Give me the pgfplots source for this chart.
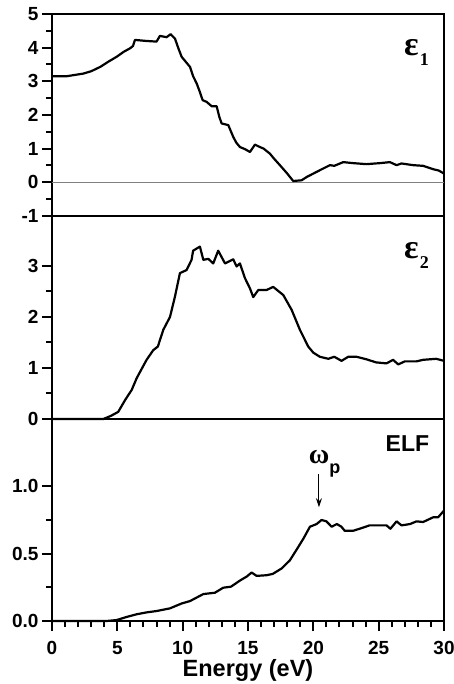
\documentclass[border=0pt]{standalone}
\usepackage{pgfplots}
\pgfplotsset{compat=1.18}
\usepackage{fontspec}
\setmainfont{Liberation Sans}
\newfontfamily\serifgr{Liberation Serif}
\usetikzlibrary{arrows.meta}

\pgfplotstableread{
x y
0.0 3.15
1.1 3.15
2.4 3.23
3.0 3.30
3.7 3.43
4.3 3.58
4.95 3.73
5.5 3.88
5.97 3.98
6.2 4.05
6.35 4.23
7.2 4.20
8.0 4.18
8.26 4.35
8.77 4.31
9.08 4.40
9.41 4.27
9.7 3.95
9.92 3.73
10.3 3.55
10.56 3.43
10.8 3.15
11.07 2.94
11.3 2.70
11.53 2.44
11.83 2.39
12.22 2.26
12.6 2.26
12.8 1.95
12.98 1.75
13.49 1.70
13.87 1.35
14.1 1.18
14.38 1.05
14.8 0.98
15.15 0.90
15.53 1.12
15.9 1.05
16.2 1.00
16.68 0.85
17.0 0.70
17.44 0.51
17.96 0.28
18.46 0.04
19.1 0.06
19.5 0.16
20.0 0.26
20.5 0.36
21.27 0.51
21.6 0.49
22.29 0.60
23.05 0.57
24.07 0.54
25.1 0.57
25.86 0.60
26.37 0.51
26.75 0.56
27.64 0.51
28.4 0.49
29.17 0.39
29.6 0.35
30.0 0.26
}\epsone

\pgfplotstableread{
x y
0.0 0.0
3.93 0.0
4.5 0.06
5.07 0.14
5.59 0.37
6.1 0.57
6.48 0.80
6.9 1.00
7.24 1.16
7.75 1.35
8.1 1.42
8.52 1.75
9.03 2.00
9.41 2.40
9.79 2.86
10.3 2.92
10.68 3.12
10.8 3.30
11.32 3.38
11.58 3.12
11.96 3.14
12.34 3.05
12.72 3.30
13.24 3.05
13.87 3.13
14.13 2.99
14.38 3.05
14.77 2.76
15.15 2.56
15.4 2.39
15.79 2.53
16.43 2.53
16.93 2.59
17.7 2.43
18.34 2.14
18.97 1.75
19.61 1.42
20.0 1.30
20.5 1.22
21.15 1.18
21.6 1.22
22.16 1.14
22.67 1.22
23.3 1.22
24.07 1.17
24.8 1.11
25.6 1.09
26.1 1.16
26.5 1.07
27.0 1.13
27.9 1.13
28.4 1.16
29.4 1.18
30.0 1.14
}\epstwo

\pgfplotstableread{
x y
0.0 0.0
4.18 0.0
4.95 0.007
5.71 0.03
6.48 0.05
7.24 0.064
8.0 0.074
9.03 0.094
9.92 0.13
10.56 0.148
11.58 0.20
12.47 0.21
13.1 0.247
13.7 0.255
14.38 0.30
14.9 0.33
15.28 0.36
15.66 0.335
16.43 0.34
16.9 0.35
17.57 0.39
18.2 0.45
18.72 0.53
19.23 0.61
19.74 0.70
20.25 0.72
20.63 0.75
21.0 0.74
21.4 0.70
21.8 0.72
22.15 0.70
22.4 0.67
23.05 0.67
23.7 0.69
24.3 0.71
25.1 0.71
25.6 0.71
25.9 0.685
26.37 0.74
26.75 0.71
27.4 0.72
27.9 0.74
28.4 0.735
29.17 0.77
29.55 0.77
30.0 0.82
}\elf

\pgfplotsset{
  panel/.style={
    scale only axis,
    width=392pt,
    xmin=0, xmax=30,
    axis line style={line width=2.2pt},
    tick style={line width=2pt, black},
    tick align=outside,
    major tick length=10pt,
    minor tick length=6pt,
    ytick pos=left,
    minor y tick num=1,
    /pgf/number format/assume math mode=true,
    tick label style={font=\fontsize{19}{19}\selectfont\bfseries},
    yticklabel style={xshift=0pt},
    clip=false,
  },
  curve/.style={black, line width=2.2pt, line join=round},
}

\begin{document}
\begin{tikzpicture}
\useasboundingbox (-52pt,-63pt) rectangle (402pt,621pt);

% ELF panel (bottom)
\begin{axis}[panel, at={(0pt,0pt)}, height=202pt,
  ymin=0, ymax=1.5, ytick={0,0.5,1.0},
  yticklabel style={/pgf/number format/.cd, fixed, fixed zerofill, precision=1},
  xtick={0,5,10,15,20,25,30}, minor x tick num=4, xtick pos=bottom,
  xticklabel style={yshift=-7pt},
  xlabel={Energy (eV)},
  xlabel style={font=\fontsize{23.5}{23.5}\selectfont\bfseries, at={(axis description cs:0.5,0)}, anchor=base, yshift=-55pt},
]
\addplot[curve] table {\elf};
\node[font=\fontsize{23}{23}\selectfont\bfseries] at (axis cs:27.2,1.32) {ELF};
\node[font=\fontsize{28}{28}\selectfont\bfseries\serifgr, inner sep=0pt] at (axis cs:20.45,1.22) {ω};
\node[font=\fontsize{18}{18}\selectfont\bfseries, inner sep=0pt] at (axis cs:21.65,1.12) {p};
\draw[line width=1pt, -{Stealth[length=9pt,width=6pt]}] (axis cs:20.43,1.09) -- (axis cs:20.43,0.845);
\end{axis}

% eps2 panel (middle)
\begin{axis}[panel, at={(0pt,202pt)}, height=203pt,
  ymin=0, ymax=3.98, ytick={0,1,2,3},
  xtick={0,5,10,15,20,25,30}, xticklabels={}, xmajorticks=false,
]
\addplot[curve] table {\epstwo};
\node[font=\fontsize{34}{34}\selectfont\bfseries\serifgr, inner sep=0pt] at (axis cs:27.5,3.31) {ε};
\node[font=\fontsize{18}{18}\selectfont\bfseries\serifgr, inner sep=0pt] at (axis cs:28.5,3.06) {2};
\end{axis}

% eps1 panel (top)
\begin{axis}[panel, at={(0pt,405pt)}, height=202pt,
  ymin=-1, ymax=5, ytick={-1,0,1,2,3,4,5},
  xtick={0,5,10,15,20,25,30}, xticklabels={}, xmajorticks=false,
]
\addplot[gray, line width=0.8pt] coordinates {(0,0) (30,0)};
\addplot[curve] table {\epsone};
\node[font=\fontsize{34}{34}\selectfont\bfseries\serifgr, inner sep=0pt] at (axis cs:27.5,4.0) {ε};
\node[font=\fontsize{18}{18}\selectfont\bfseries\serifgr, inner sep=0pt] at (axis cs:28.5,3.65) {1};
\end{axis}
\end{tikzpicture}
\end{document}
